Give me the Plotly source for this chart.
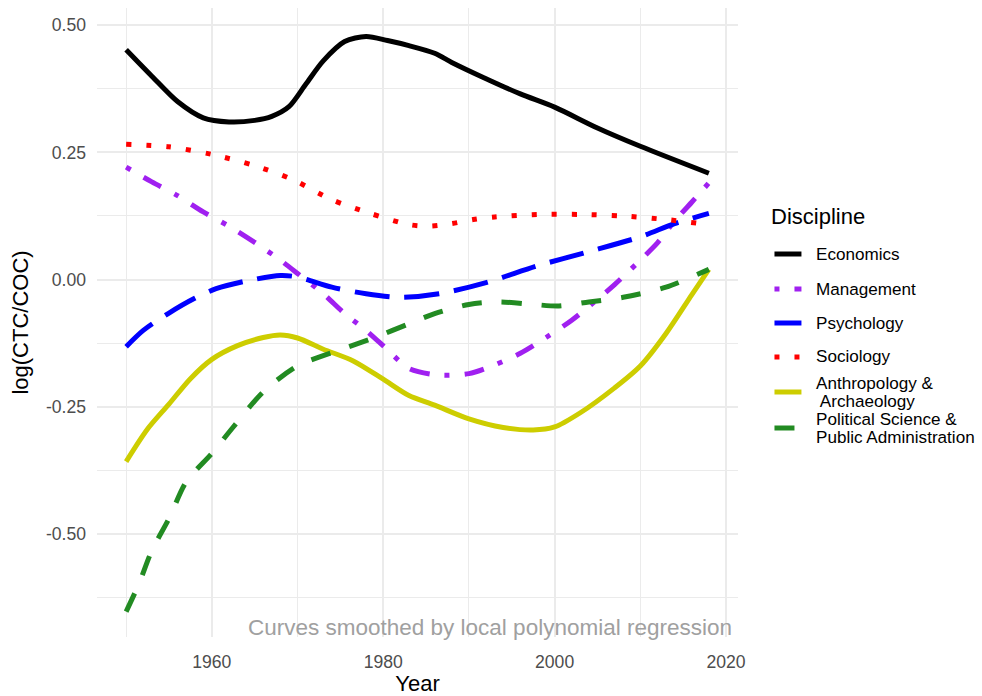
import plotly.graph_objects as go

# ---------------- data ----------------
disciplines = ["Economics", "Management", "Psychology", "Sociology",
               "Anthropology & Archaeology", "Political Science & Public Administration"]

econ_years = [1950, 1953, 1956, 1959, 1962, 1965, 1967, 1969, 1971, 1973, 1975.5, 1978,
              1980.5, 1983, 1986, 1988, 1992, 1996, 2000, 2005, 2010, 2018]
econ_vals = [0.452, 0.400, 0.350, 0.318, 0.310, 0.313, 0.321, 0.340, 0.385, 0.430, 0.468, 0.478,
             0.470, 0.460, 0.445, 0.427, 0.395, 0.365, 0.339, 0.298, 0.262, 0.209]

mgmt_years = [1950, 1953, 1956, 1959, 1962, 1965, 1968, 1970, 1973, 1975.5, 1978, 1980.5, 1983,
              1986.5, 1990, 1993, 1996, 1999, 2002, 2004.5, 2007, 2009.5, 2012, 2014, 2016, 2018]
mgmt_vals = [0.221, 0.192, 0.165, 0.133, 0.105, 0.073, 0.038, 0.012, -0.028, -0.067, -0.100, -0.138,
             -0.175, -0.188, -0.185, -0.168, -0.145, -0.114, -0.080, -0.046, -0.010, 0.030, 0.072,
             0.115, 0.152, 0.190]

psych_years = [1950, 1952, 1955, 1958, 1960.5, 1964, 1968, 1970, 1974, 1978, 1982, 1986.5, 1992,
               1998, 2004, 2010, 2014, 2018]
psych_vals = [-0.132, -0.100, -0.066, -0.037, -0.018, -0.003, 0.008, 0.005, -0.015, -0.028, -0.035,
              -0.028, -0.006, 0.027, 0.055, 0.084, 0.110, 0.130]

soc_years = [1950, 1955, 1960, 1965, 1969.5, 1974, 1978.5, 1983, 1985.5, 1988, 1990.5, 1993, 1998,
             2003, 2008, 2013, 2018]
soc_vals = [0.266, 0.261, 0.246, 0.224, 0.196, 0.157, 0.130, 0.108, 0.105, 0.110, 0.118, 0.123, 0.128,
            0.128, 0.125, 0.118, 0.108]

anth_years = [1950, 1952.5, 1955, 1957.5, 1960, 1963, 1966, 1968, 1970, 1973, 1976.5, 1980, 1983,
              1986, 1990, 1994, 1997.5, 2000, 2003, 2007, 2010, 2013, 2016, 2018]
anth_vals = [-0.358, -0.294, -0.245, -0.195, -0.157, -0.130, -0.114, -0.109, -0.115, -0.137, -0.160,
             -0.196, -0.228, -0.247, -0.274, -0.291, -0.296, -0.290, -0.262, -0.213, -0.170, -0.106,
             -0.030, 0.020]

pol_years = [1950, 1951.5, 1953, 1955, 1957, 1960, 1962.5, 1966, 1970, 1975, 1979, 1983, 1986, 1990,
             1993.5, 1997.5, 2000.5, 2004, 2008, 2013, 2018]
pol_vals = [-0.653, -0.598, -0.533, -0.470, -0.398, -0.342, -0.290, -0.221, -0.170, -0.138, -0.114,
            -0.087, -0.067, -0.049, -0.044, -0.049, -0.052, -0.044, -0.035, -0.015, 0.020]

legend_labels = [["Economics"], ["Management"], ["Psychology"], ["Sociology"],
                 ["Anthropology &", " Archaeology"], ["Political Science &", "Public Administration"]]

x_tickvals = [1960, 1980, 2000, 2020]
x_ticktext = ["1960", "1980", "2000", "2020"]
y_tickvals = [-0.5, -0.25, 0.0, 0.25, 0.5]
y_ticktext = ["-0.50", "-0.25", "0.00", "0.25", "0.50"]

# ---------------- styling ----------------
FONT = "Liberation Sans"
LW = 5
colors = ["#000000", "#A020F0", "#0000FF", "#FF0000", "#CDCD00", "#228B22"]
dashes = ["solid",
          f"{LW}px,{3*LW}px,{4*LW}px,{3*LW}px",   # dotdash
          f"{7*LW}px,{3*LW}px",                   # longdash
          f"{LW}px,{3*LW}px",                     # dotted
          "solid",
          f"{4*LW}px,{4*LW}px"]                   # dashed

W, H = 982, 696
PL, PR, PT, PB = 97, 738.5, 8, 637

series = [(econ_years, econ_vals), (mgmt_years, mgmt_vals), (psych_years, psych_vals),
          (soc_years, soc_vals), (anth_years, anth_vals), (pol_years, pol_vals)]

fig = go.Figure()
for name, (xs, ys), c, d in zip(disciplines, series, colors, dashes):
    fig.add_trace(go.Scatter(x=xs, y=ys, name=name, mode="lines",
                             line=dict(color=c, width=LW, dash=d, shape="spline", smoothing=0.8),
                             showlegend=False))

def px_to_paper_x(px):
    return (px - PL) / (PR - PL)

def px_to_paper_y(py):
    return (PB - py) / (PB - PT)

# manual legend (ggplot style)
annotations = []
shapes = []
annotations.append(dict(text="Discipline", xref="paper", yref="paper",
                        x=px_to_paper_x(770), y=px_to_paper_y(216), xanchor="left", yanchor="middle",
                        showarrow=False, font=dict(family=FONT, size=22, color="#000000")))
key_y = [254, 289, 323, 357, 392, 428]
line_offsets = [[0], [0], [0], [0], [-8.5, 9.5], [-8.5, 9]]
for lab, c, d, ky, offs in zip(legend_labels, colors, dashes, key_y, line_offsets):
    shapes.append(dict(type="line", xref="paper", yref="paper",
                       x0=px_to_paper_x(775), x1=px_to_paper_x(802),
                       y0=px_to_paper_y(ky), y1=px_to_paper_y(ky),
                       line=dict(color=c, width=LW, dash=d)))
    for txt, off in zip(lab, offs):
        annotations.append(dict(text=txt, xref="paper", yref="paper",
                                x=px_to_paper_x(815), y=px_to_paper_y(ky + off),
                                xanchor="left", yanchor="middle", showarrow=False,
                                font=dict(family=FONT, size=17.1, color="#000000")))

annotations.append(dict(text="Curves smoothed by local polynomial regression", xref="paper", yref="paper",
                        x=px_to_paper_x(734), y=px_to_paper_y(627), xanchor="right", yanchor="middle",
                        showarrow=False, font=dict(family=FONT, size=22.5, color="#A0A0A0")))

GRID = "#EBEBEB"
fig.update_layout(
    width=W, height=H, autosize=False,
    margin=dict(l=PL, r=W - PR, t=PT, b=H - PB, pad=0, autoexpand=False),
    paper_bgcolor="white", plot_bgcolor="white",
    font=dict(family=FONT, size=17.6, color="#4D4D4D"),
    showlegend=False,
    annotations=annotations, shapes=shapes,
    xaxis=dict(range=[1946.6, 2021.4], tickmode="array", tickvals=x_tickvals, ticktext=x_ticktext,
               automargin=False,
               showgrid=True, gridcolor=GRID, gridwidth=2, zeroline=False, showline=False, ticks="",
               ticklabelstandoff=12,
               tickfont=dict(family=FONT, size=17.6, color="#4D4D4D"),
               minor=dict(tickvals=[1950, 1970, 1990, 2010], showgrid=True, gridcolor=GRID, gridwidth=1.2),
               title=dict(text="Year", font=dict(family=FONT, size=22, color="#000000"), standoff=6)),
    yaxis=dict(range=[-0.703, 0.534], tickmode="array", tickvals=y_tickvals, ticktext=y_ticktext,
               automargin=False,
               showgrid=True, gridcolor=GRID, gridwidth=2, zeroline=False, showline=False, ticks="",
               ticklabelstandoff=10,
               tickfont=dict(family=FONT, size=17.6, color="#4D4D4D"),
               minor=dict(tickvals=[-0.625, -0.375, -0.125, 0.125, 0.375], showgrid=True,
                          gridcolor=GRID, gridwidth=1.2),
               title=dict(text="log(CTC/COC)", font=dict(family=FONT, size=22, color="#000000"), standoff=11)),
)

fig.write_html("out.html", config={"displayModeBar": False},
               post_script="document.body.style.margin='0';document.body.style.overflow='hidden';")
